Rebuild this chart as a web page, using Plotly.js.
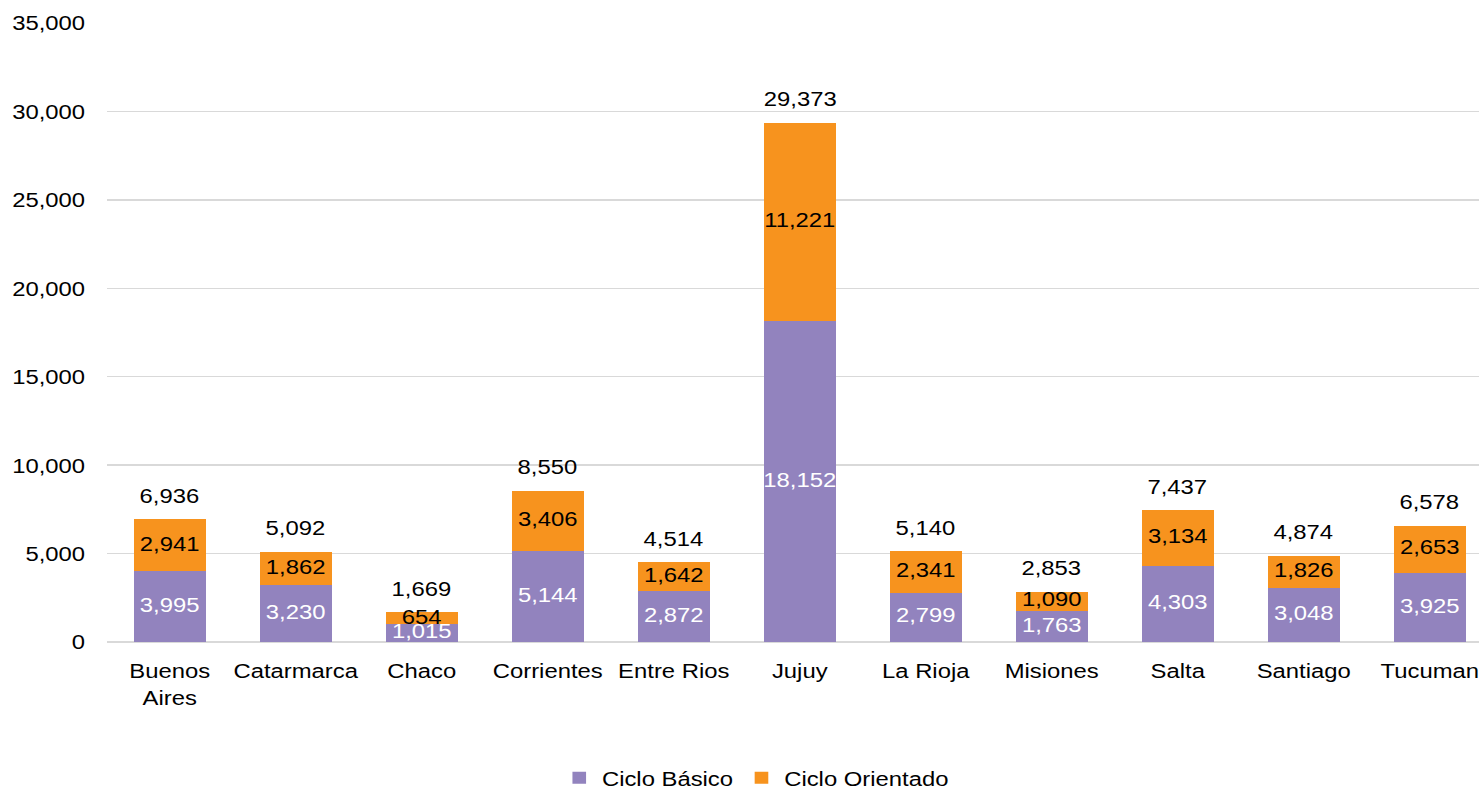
<!DOCTYPE html>
<html>
<head>
<meta charset="utf-8">
<script src="https://cdn.plot.ly/plotly-3.0.1.min.js"></script>
<style>
  html, body { margin: 0; padding: 0; overflow: hidden; background: #fff; width: 1479px; height: 790px; }
  #chart { width: 1303px; height: 790px; transform: scaleX(1.135); transform-origin: 0 0; }
</style>
</head>
<body>
<div id="chart"></div>
<script>
const categories = ['Buenos<br>Aires', 'Catarmarca', 'Chaco', 'Corrientes', 'Entre Rios', 'Jujuy', 'La Rioja', 'Misiones', 'Salta', 'Santiago', 'Tucuman'];
const cicloBasico = [3995, 3230, 1015, 5144, 2872, 18152, 2799, 1763, 4303, 3048, 3925];
const cicloOrientado = [2941, 1862, 654, 3406, 1642, 11221, 2341, 1090, 3134, 1826, 2653];
const totals = [6936, 5092, 1669, 8550, 4514, 29373, 5140, 2853, 7437, 4874, 6578];

const FONT = 'Liberation Sans, Arial, sans-serif';
const FS = 21;
const PURPLE = '#9283BE';
const ORANGE = '#F7931E';
const fmt = v => v.toLocaleString('en-US');
const idx = categories.map((_, i) => i);

const traces = [
  {
    type: 'bar', name: 'Ciclo Básico', x: idx, y: cicloBasico,
    marker: { color: PURPLE, line: { width: 0 } }, hoverinfo: 'none'
  },
  {
    type: 'bar', name: 'Ciclo Orientado', x: idx, y: cicloOrientado,
    marker: { color: ORANGE, line: { width: 0 } }, hoverinfo: 'none'
  },
  {
    type: 'scatter', mode: 'text', showlegend: false, hoverinfo: 'none',
    x: idx, y: cicloBasico.map(v => v / 2),
    text: cicloBasico.map(fmt), textposition: 'middle center',
    textfont: { family: FONT, size: FS, color: '#ffffff' }, cliponaxis: true
  },
  {
    type: 'scatter', mode: 'text', showlegend: false, hoverinfo: 'none',
    x: idx, y: cicloOrientado.map((v, i) => cicloBasico[i] + v / 2),
    text: cicloOrientado.map(fmt), textposition: 'middle center',
    textfont: { family: FONT, size: FS, color: '#000000' }, cliponaxis: false
  }
];

const annotations = totals.map((t, i) => ({
  x: i, y: t, xref: 'x', yref: 'y', text: fmt(t), showarrow: false,
  yanchor: 'middle', yshift: 24,
  font: { family: FONT, size: FS, color: '#000000' }
}));

const layout = {
  width: 1303, height: 790,
  margin: { l: 94.3, r: 0, t: 23, b: 148, autoexpand: false },
  paper_bgcolor: '#ffffff', plot_bgcolor: '#ffffff',
  barmode: 'stack', bargap: 0.43,
  font: { family: FONT, size: FS, color: '#000000' },
  showlegend: true,
  legend: {
    orientation: 'h', x: 0.473, xanchor: 'center',
    yref: 'container', y: 0.015, yanchor: 'middle',
    font: { family: FONT, size: FS, color: '#000000' }, traceorder: 'normal',
    itemwidth: 30
  },
  xaxis: {
    tickmode: 'array', tickvals: idx, ticktext: categories,
    range: [-0.5, 10.39], showgrid: false, zeroline: false, showline: false,
    ticks: '', ticklabelstandoff: 14, ticklabeloverflow: 'allow',
    tickfont: { family: FONT, size: FS, color: '#000000' }, fixedrange: true
  },
  yaxis: {
    range: [0, 35000], tickmode: 'linear', tick0: 0, dtick: 5000,
    tickformat: ',d', showgrid: true, gridcolor: '#D9D9D9', gridwidth: 1.5,
    zeroline: true, zerolinecolor: '#D9D9D9', zerolinewidth: 1.5, showline: false,
    ticks: '', ticklabelstandoff: 18,
    tickfont: { family: FONT, size: FS, color: '#000000' }, fixedrange: true
  },
  annotations: annotations
};

Plotly.newPlot('chart', traces, layout, { displayModeBar: false, staticPlot: true });
</script>
</body>
</html>
